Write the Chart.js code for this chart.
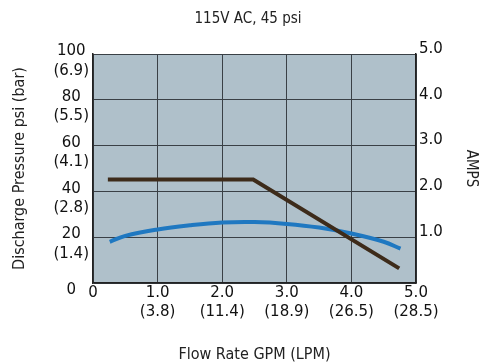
<!DOCTYPE html>
<html>
<head>
<meta charset="utf-8">
<script src="https://cdn.jsdelivr.net/npm/chart.js@4/dist/chart.umd.min.js"></script>
<style>
  html, body { margin: 0; padding: 0; background: #ffffff; }
  #wrap { width: 482px; height: 362px; position: relative; }
</style>
</head>
<body>
<div id="wrap"><canvas id="c" width="482" height="362"></canvas></div>
<script>
// ---- data ----
const chartTitle = '115V AC, 45 psi';
const xAxisTitle = 'Flow Rate GPM (LPM)';
const yAxisTitle = 'Discharge Pressure psi (bar)';
const y2AxisTitle = 'AMPS';

// flow (GPM) tick labels with LPM in brackets
const xTickLabels = ['0', ['1.0', '(3.8)'], ['2.0', '(11.4)'], ['3.0', '(18.9)'], ['4.0', '(26.5)'], ['5.0', '(28.5)']];
// pressure psi tick labels with bar in brackets
const yTickLabels = ['0', ['20', '(1.4)'], ['40', '(2.8)'], ['60', '(4.1)'], ['80', '(5.5)'], ['100', '(6.9)']];
// amps tick labels
const y2TickLabels = ['', '1.0', '2.0', '3.0', '4.0', '5.0'];

// pressure curve (psi) vs flow (GPM)
const pressureFlow = [0.23, 2.48, 4.74];
const pressurePsi  = [45.2, 45.2, 6.4];

// current curve (A) vs flow (GPM)
const ampsFlow = [0.26, 0.5, 1.0, 1.5, 2.0, 2.5, 3.0, 3.5, 4.0, 4.5, 4.76];
const ampsVal  = [0.90, 1.03, 1.17, 1.26, 1.32, 1.33, 1.29, 1.21, 1.08, 0.90, 0.75];

// ---- chart ----
const plotBg = {
  id: 'plotBg',
  beforeDraw(chart) {
    const a = chart.chartArea, ctx = chart.ctx;
    ctx.save();
    ctx.fillStyle = '#afc0ca';
    ctx.fillRect(a.left, a.top, a.right - a.left, a.bottom - a.top);
    ctx.restore();
  }
};

const tickFont = { family: 'DejaVu Sans', size: 15, lineHeight: 1.3 };
const condFam = "'DejaVu Sans Condensed', 'DejaVu Sans'";
const gridCol = '#3a4046';

new Chart(document.getElementById('c'), {
  type: 'line',
  data: {
    datasets: [
      {
        label: 'Pressure',
        data: pressureFlow.map((x, i) => ({ x, y: pressurePsi[i] })),
        yAxisID: 'y',
        borderColor: '#3d2b1a',
        borderWidth: 4,
        pointRadius: 0,
        tension: 0,
        borderCapStyle: 'butt'
      },
      {
        label: 'Amps',
        data: ampsFlow.map((x, i) => ({ x, y: ampsVal[i] })),
        yAxisID: 'y2',
        borderColor: '#1f78c1',
        borderWidth: 4,
        pointRadius: 0,
        tension: 0.4
      }
    ]
  },
  options: {
    responsive: false,
    animation: false,
    events: [],
    layout: { padding: { left: 14, right: 0, top: 0, bottom: 0 } },
    plugins: {
      legend: { display: false },
      tooltip: { enabled: false },
      title: {
        display: true,
        text: chartTitle,
        color: '#222',
        font: { family: condFam, size: 15, weight: 'normal', lineHeight: 1.2 },
        padding: { top: 10, bottom: 26 }
      }
    },
    scales: {
      x: {
        type: 'linear',
        min: 0, max: 5,
        afterBuildTicks(s) { s.ticks = xTickLabels.map((_, i) => ({ value: i })); },
        afterFit(s) { s.height = 79; },
        ticks: {
          autoSkip: false,
          maxRotation: 0,
          padding: 0,
          color: '#111',
          font: tickFont,
          callback: (v) => xTickLabels[Math.round(v)]
        },
        grid: { color: gridCol, lineWidth: 1, drawTicks: false },
        border: { color: '#222', width: 1.5 },
        title: {
          display: true,
          text: xAxisTitle,
          color: '#222',
          font: { family: condFam, size: 16, lineHeight: 1.2 },
          padding: { top: 0, bottom: -2 }
        }
      },
      y: {
        type: 'linear',
        position: 'left',
        min: 0, max: 100,
        afterBuildTicks(s) { s.ticks = yTickLabels.map((_, i) => ({ value: i * 20 })); },
        afterFit(s) { s.width = 79; },
        ticks: {
          autoSkip: false,
          crossAlign: 'center',
          padding: 4,
          labelOffset: 7,
          color: '#111',
          font: tickFont,
          callback: (v) => yTickLabels[Math.round(v / 20)]
        },
        grid: { color: gridCol, lineWidth: 1, drawTicks: false },
        border: { color: '#222', width: 1.5 },
        title: {
          display: true,
          text: yAxisTitle,
          color: '#222',
          font: { family: condFam, size: 16, lineHeight: 1 },
          padding: { top: -2, bottom: 0 }
        }
      },
      y2: {
        type: 'linear',
        position: 'right',
        min: 0, max: 5,
        afterBuildTicks(s) { s.ticks = y2TickLabels.map((_, i) => ({ value: i })); },
        afterFit(s) { s.width = 66; },
        ticks: {
          autoSkip: false,
          padding: 3,
          labelOffset: -5,
          color: '#111',
          font: tickFont,
          callback: (v) => y2TickLabels[Math.round(v)]
        },
        grid: { display: false, drawTicks: false },
        border: { color: '#222', width: 1.5 },
        title: {
          display: true,
          text: y2AxisTitle,
          color: '#222',
          font: { family: condFam, size: 15, lineHeight: 1.2 },
          padding: { top: 2, bottom: 0 }
        }
      }
    }
  },
  plugins: [plotBg]
});
</script>
</body>
</html>
